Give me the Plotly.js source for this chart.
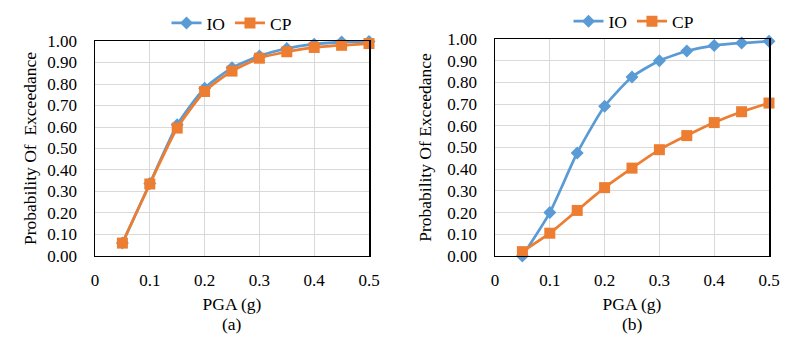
<!DOCTYPE html>
<html>
<head>
<meta charset="utf-8">
<script src="https://cdn.plot.ly/plotly-3.0.1.min.js"></script>
<style>html,body{margin:0;padding:0;background:#fff}#chart{width:800px;height:355px}</style>
</head>
<body>
<div id="chart"></div>
<script>
var pga = [0.05, 0.10, 0.15, 0.20, 0.25, 0.30, 0.35, 0.40, 0.45, 0.50];
var ioA = [0.06, 0.337, 0.61, 0.78, 0.875, 0.93, 0.965, 0.985, 0.995, 0.998];
var cpA = [0.06, 0.335, 0.595, 0.765, 0.86, 0.92, 0.95, 0.97, 0.98, 0.988];
var ioB = [0.0, 0.20, 0.475, 0.69, 0.825, 0.90, 0.945, 0.97, 0.982, 0.99];
var cpB = [0.02, 0.105, 0.21, 0.315, 0.405, 0.49, 0.555, 0.615, 0.665, 0.705];
var xTicks = [0, 0.1, 0.2, 0.3, 0.4, 0.5];
var xTickText = ['0', '0.1', '0.2', '0.3', '0.4', '0.5'];
var yTicks = [0, 0.1, 0.2, 0.3, 0.4, 0.5, 0.6, 0.7, 0.8, 0.9, 1.0];

var blue = '#5B9BD5', orange = '#ED7D31';
var font = '"Liberation Serif", "Times New Roman", serif';

function tr(y, name, xa, ya, color, symbol, size, leg) {
  return {x: pga, y: y, name: name, xaxis: xa, yaxis: ya, type: 'scatter', mode: 'lines+markers',
    line: {color: color, width: 2.75, shape: 'spline', smoothing: 0.6},
    marker: {color: color, symbol: symbol, size: size}, legend: leg, cliponaxis: false};
}

var data = [
  tr(ioA, 'IO', 'x', 'y', blue, 'diamond', 10, 'legend'),
  tr(cpA, 'CP', 'x', 'y', orange, 'square', 11, 'legend'),
  tr(ioB, 'IO', 'x2', 'y2', blue, 'diamond', 10, 'legend2'),
  tr(cpB, 'CP', 'x2', 'y2', orange, 'square', 11, 'legend2')
];

function xax(dom, anchor) {
  return {domain: dom, anchor: anchor, range: [0, 0.5], tickvals: xTicks, ticktext: xTickText,
    showgrid: true, gridcolor: '#d9d9d9', gridwidth: 1, zeroline: false,
    showline: true, mirror: true, linecolor: '#000', linewidth: 1.5, ticks: '',
    ticklabelstandoff: 8,
    tickfont: {family: font, size: 17, color: '#000'},
    title: {text: 'PGA (g)', font: {family: font, size: 17.5, color: '#000'}, standoff: 9}};
}
function yax(dom, anchor, title, so) {
  return {domain: dom, anchor: anchor, range: [0, 1], tickvals: yTicks, tickformat: '.2f',
    showgrid: true, gridcolor: '#d9d9d9', gridwidth: 1, zeroline: false,
    showline: true, mirror: true, linecolor: '#000', linewidth: 1.5, ticks: '',
    ticklabelstandoff: 13,
    tickfont: {family: font, size: 17, color: '#000'},
    title: {text: title, font: {family: font, size: 17.5, color: '#000'}, standoff: so}};
}

var layout = {
  width: 800, height: 355,
  margin: {l: 0, r: 0, t: 0, b: 0},
  paper_bgcolor: '#fff', plot_bgcolor: '#fff',
  showlegend: true,
  xaxis: xax([0.11875, 0.46125], 'y'),
  yaxis: yax([0.2789, 0.8845], 'x', 'Probability Of  Exceedance', 6),
  xaxis2: xax([0.61875, 0.96125], 'y2'),
  yaxis2: yax([0.2789, 0.890], 'x2', 'Probability Of Exceedance', 11),
  legend: {orientation: 'h', x: 0.29, xanchor: 'center', y: 0.935, yanchor: 'middle',
    font: {family: font, size: 17.5, color: '#000'}, bgcolor: 'rgba(0,0,0,0)'},
  legend2: {orientation: 'h', x: 0.7925, xanchor: 'center', y: 0.94, yanchor: 'middle',
    font: {family: font, size: 17.5, color: '#000'}, bgcolor: 'rgba(0,0,0,0)'},
  annotations: [
    {text: '(a)', xref: 'paper', yref: 'paper', x: 0.29, y: 1 - 324/355, xanchor: 'center', yanchor: 'middle',
      showarrow: false, font: {family: font, size: 17.5, color: '#000'}},
    {text: '(b)', xref: 'paper', yref: 'paper', x: 0.79, y: 1 - 324/355, xanchor: 'center', yanchor: 'middle',
      showarrow: false, font: {family: font, size: 17.5, color: '#000'}}
  ]
};

Plotly.newPlot('chart', data, layout, {displayModeBar: false, staticPlot: true});
</script>
</body>
</html>
